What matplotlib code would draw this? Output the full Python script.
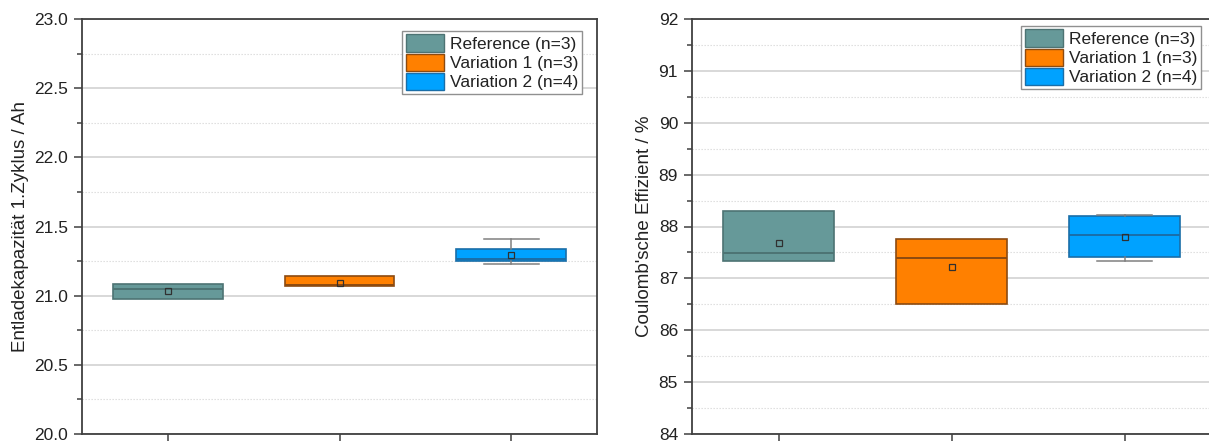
import matplotlib
matplotlib.use("Agg")
import matplotlib.pyplot as plt
from matplotlib.patches import Patch
from matplotlib.ticker import MultipleLocator

plt.rcParams['font.family'] = ['Liberation Sans', 'DejaVu Sans']

# ---- data ----
groups = ["Reference (n=3)", "Variation 1 (n=3)", "Variation 2 (n=4)"]
colors = ["#669999", "#ff8000", "#00a2ff"]
edge_colors = ["#4d7373", "#8c4a10", "#1a6ea8"]

# Left: Entladekapazitaet 1. Zyklus / Ah
cap_q1 = [20.976, 21.067, 21.249]
cap_q3 = [21.085, 21.145, 21.336]
cap_med = [21.049, 21.075, 21.263]
cap_mean = [21.034, 21.094, 21.295]
cap_wlo = [20.976, 21.067, 21.230]
cap_whi = [21.085, 21.145, 21.413]

# Right: Coulomb'sche Effizienz / %
ce_q1 = [87.33, 86.51, 87.41]
ce_q3 = [88.30, 87.76, 88.21]
ce_med = [87.48, 87.40, 87.83]
ce_mean = [87.69, 87.21, 87.79]
ce_wlo = [87.33, 86.51, 87.34]
ce_whi = [88.30, 87.76, 88.22]

fig = plt.figure(figsize=(12.09, 4.41), dpi=100)
W, H = 1209, 441
ax1 = fig.add_axes([82 / W, (H - 434) / H, 515 / W, 415 / H])
ax2 = fig.add_axes([692 / W, (H - 434) / H, 519 / W, 415 / H])

txt_color = "#222222"
spine_color = "#404040"
FS = 12.5
LFS = 13.5


def draw(ax, q1, q3, med, mean, wlo, whi, ylim, major, minor, ylabel, fmt, leg_anchor):
    stats = []
    for i in range(len(groups)):
        stats.append(dict(q1=q1[i], q3=q3[i], med=med[i], mean=mean[i],
                          whislo=wlo[i], whishi=whi[i], fliers=[], label=groups[i]))
    ax.set_axisbelow(True)
    for i, s in enumerate(stats):
        has_whisk = (wlo[i] < q1[i]) or (whi[i] > q3[i])
        cap_col = "#808080" if has_whisk else "none"
        ax.bxp([s], positions=[i + 1], widths=0.64, patch_artist=True, showmeans=True,
               showfliers=False,
               boxprops=dict(facecolor=colors[i], edgecolor=edge_colors[i], linewidth=1.2),
               medianprops=dict(color=edge_colors[i], linewidth=1.4),
               whiskerprops=dict(color="#808080", linewidth=1.1),
               capprops=dict(color=cap_col, linewidth=1.1),
               capwidths=0.32,
               meanprops=dict(marker="s", markersize=4, markerfacecolor="none",
                              markeredgecolor="#303030", markeredgewidth=0.9),
               manage_ticks=False)
    ax.set_xlim(0.5, 3.5)
    ax.set_ylim(*ylim)
    ax.set_xticks([1, 2, 3])
    ax.set_xticklabels([])
    ax.yaxis.set_major_locator(MultipleLocator(major))
    ax.yaxis.set_minor_locator(MultipleLocator(minor))
    ax.yaxis.set_major_formatter(plt.FormatStrFormatter(fmt))
    ax.grid(which="major", axis="y", color="#d2d2d2", linewidth=1.2, linestyle="-")
    ax.grid(which="minor", axis="y", color="#dadada", linewidth=0.8, linestyle=(0, (1.2, 1.5)))
    ax.tick_params(axis="both", which="major", direction="out", length=6, width=1.1,
                   color=spine_color, labelsize=FS, labelcolor=txt_color, pad=4)
    ax.tick_params(axis="y", which="minor", direction="out", length=3.5, width=1.1,
                   color=spine_color)
    ax.tick_params(axis="x", which="minor", bottom=False)
    for sp in ax.spines.values():
        sp.set_color(spine_color)
        sp.set_linewidth(1.3)
    ax.set_ylabel(ylabel, fontsize=LFS, color=txt_color, labelpad=4)
    handles = [Patch(facecolor=colors[i], edgecolor=edge_colors[i], linewidth=1.0, label=groups[i])
               for i in range(len(groups))]
    leg = ax.legend(handles=handles, loc="upper right", bbox_to_anchor=leg_anchor,
                    fontsize=FS, frameon=True, fancybox=False, framealpha=1,
                    edgecolor="#909090", handlelength=2.2, handleheight=1.15,
                    labelspacing=0.1, borderpad=0.2, handletextpad=0.35,
                    borderaxespad=0)
    leg.get_frame().set_linewidth(1.0)
    for t in leg.get_texts():
        t.set_color(txt_color)


draw(ax1, cap_q1, cap_q3, cap_med, cap_mean, cap_wlo, cap_whi,
     (20.0, 23.0), 0.5, 0.25, "Entladekapazität 1.Zyklus / Ah", "%.1f",
     (1 - 15 / 515, 1 - 12 / 415))
draw(ax2, ce_q1, ce_q3, ce_med, ce_mean, ce_wlo, ce_whi,
     (84, 92), 1, 0.5, "Coulomb'sche Effizient / %", "%d",
     (1 - 10 / 519, 1 - 7 / 415))

fig.savefig("out.png", dpi=100)
